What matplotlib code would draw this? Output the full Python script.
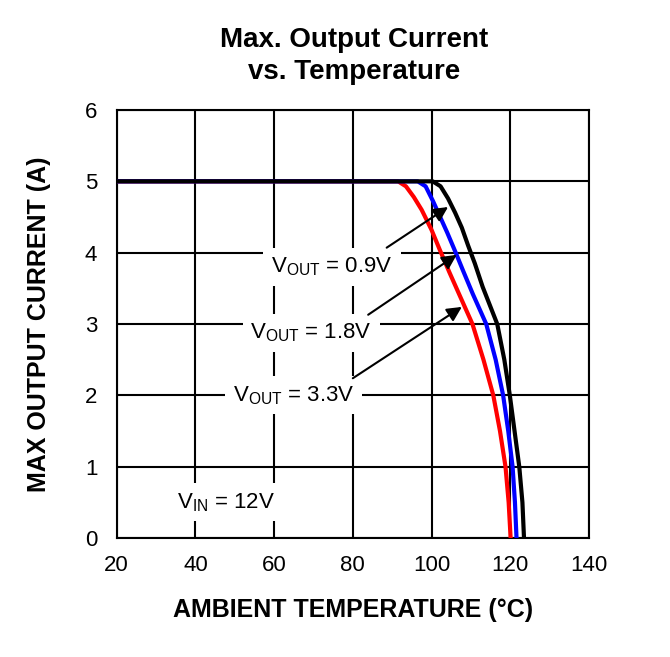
import matplotlib
matplotlib.use("Agg")
import matplotlib.pyplot as plt

plt.rcParams['font.family'] = ['Liberation Sans', 'DejaVu Sans']
plt.rcParams['mathtext.fontset'] = 'custom'
plt.rcParams['mathtext.rm'] = 'Liberation Sans'

# curve data (temperature in C, current in A)
temp_09 = [20, 100.3, 102.3, 104.2, 106.0, 107.7, 109.3, 111.0, 113.0, 116.7, 118.5, 119.9, 121.1, 122.3, 123.1, 123.5]
curr_09 = [5.0, 5.0, 4.93, 4.76, 4.56, 4.35, 4.10, 3.85, 3.52, 3.0, 2.5, 2.0, 1.5, 1.0, 0.5, 0.0]

temp_18 = [20, 96.5, 98.5, 100.4, 102.2, 104.0, 106.0, 108.0, 110.5, 113.9, 116.3, 118.2, 119.5, 120.6, 121.2, 121.6]
curr_18 = [5.0, 5.0, 4.93, 4.72, 4.50, 4.28, 4.02, 3.75, 3.42, 3.0, 2.5, 2.0, 1.5, 1.0, 0.5, 0.0]

temp_33 = [20, 91.5, 93.5, 95.5, 97.5, 100.0, 102.1, 104.5, 107.0, 110.4, 113.2, 115.7, 117.4, 118.8, 119.6, 120.1]
curr_33 = [5.0, 5.0, 4.93, 4.78, 4.60, 4.32, 4.04, 3.73, 3.42, 3.0, 2.5, 2.0, 1.5, 1.0, 0.5, 0.0]

x_ticks = [20, 40, 60, 80, 100, 120, 140]
y_ticks = [0, 1, 2, 3, 4, 5, 6]

fig = plt.figure(figsize=(6.7, 6.57), dpi=100)
ax = fig.add_axes([0.1742, 0.181, 0.7048, 0.6516])

ax.plot(temp_33, curr_33, color='#ff0000', lw=3, zorder=3, solid_joinstyle='round')
ax.plot(temp_18, curr_18, color='#0000ff', lw=3, zorder=3, solid_joinstyle='round')
ax.plot(temp_09, curr_09, color='black', lw=3, zorder=3, solid_joinstyle='round')

ax.set_xlim(20, 140)
ax.set_ylim(0, 6)
ax.set_xticks(x_ticks)
ax.set_yticks(y_ticks)
ax.grid(True, color='black', lw=1.5)
ax.set_axisbelow(True)
for s in ax.spines.values():
    s.set_linewidth(1.5)
ax.tick_params(length=0, labelsize=16)
ax.tick_params(axis='x', pad=12)
ax.tick_params(axis='y', pad=14)

ax.set_xlabel('AMBIENT TEMPERATURE (°C)', fontsize=18, fontweight='bold', labelpad=16)
ax.set_ylabel('MAX OUTPUT CURRENT (A)', fontsize=18, fontweight='bold', labelpad=24)

fig.text(0.528, 0.939, 'Max. Output Current', ha='center', va='center', fontsize=20, fontweight='bold')
fig.text(0.528, 0.890, 'vs. Temperature', ha='center', va='center', fontsize=20, fontweight='bold')

box = dict(boxstyle='square,pad=0.35', fc='white', ec='none')
ax.text(74.7, 3.80, r'V$_{\mathrm{OUT}}$ = 0.9V', fontsize=16, ha='center', va='center', bbox=box, zorder=4)
ax.text(69.4, 2.88, r'V$_{\mathrm{OUT}}$ = 1.8V', fontsize=16, ha='center', va='center', bbox=box, zorder=4)
ax.text(65.0, 2.00, r'V$_{\mathrm{OUT}}$ = 3.3V', fontsize=16, ha='center', va='center', bbox=box, zorder=4)
ax.text(47.8, 0.50, r'V$_{\mathrm{IN}}$ = 12V', fontsize=16, ha='center', va='center', bbox=box, zorder=4)

arrow = dict(arrowstyle='-|>', color='black', lw=1.5, mutation_scale=22, shrinkA=0, shrinkB=0)
ax.annotate('', xy=(104.2, 4.64), xytext=(88.6, 4.07), arrowprops=arrow, zorder=5)
ax.annotate('', xy=(106.4, 3.97), xytext=(83.9, 3.13), arrowprops=arrow, zorder=5)
ax.annotate('', xy=(107.7, 3.24), xytext=(80.0, 2.24), arrowprops=arrow, zorder=5)

fig.savefig('out.png', dpi=100)
